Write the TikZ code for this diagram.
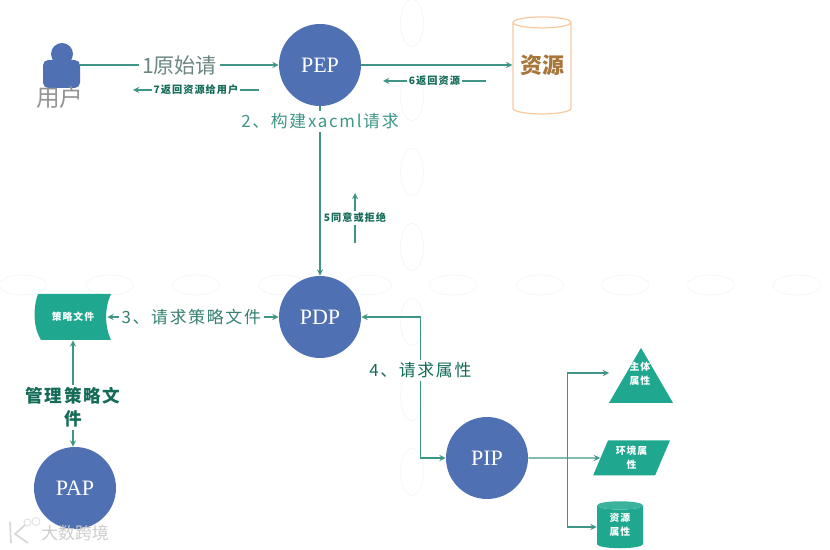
\documentclass[tikz,border=0pt]{standalone}
\usepackage{fontspec}
\setmainfont{Liberation Serif}
\newfontfamily\cjk{Noto Sans CJK SC}
\newfontfamily\cjkw[LetterSpace=10]{Noto Sans CJK SC}
\usetikzlibrary{shapes.geometric,positioning}
\definecolor{bluec}{HTML}{4F71B4}
\definecolor{tealc}{HTML}{1FA88F}
\definecolor{linec}{HTML}{3F9686}
\definecolor{darkc}{HTML}{146B58}
\definecolor{orangec}{HTML}{F6C9A0}
\definecolor{brownc}{HTML}{A9763A}
\definecolor{paleg}{HTML}{F5F5F5}

\begin{document}
\begin{tikzpicture}[every node/.style={font=\cjk},
  pt/.style={circle,fill=bluec,text=white,minimum size=1.64cm,inner sep=0,font=\fontsize{12.5}{15}\selectfont\rmfamily},
  conn/.style={draw=linec,line width=.6pt},
  big/.style={fill=white,inner sep=1.5pt,text=darkc!85,align=center,font=\fontsize{9.6}{13}\selectfont\cjkw},
  small/.style={fill=white,inner sep=1pt,text=darkc,font=\fontsize{5.8}{7}\selectfont\cjkw\bfseries},
  tiny/.style={text=white,align=center,inner sep=0,font=\fontsize{5.6}{8}\selectfont\cjkw\bfseries}]
  \useasboundingbox (0,0) rectangle (16.6,11);

  \foreach \x in {.46,2.2,3.92,5.64,7.36,9.06,10.8,12.5,14.22,15.94}
    \draw[paleg] (\x,5.3) ellipse (.47 and .2);
  \foreach \y in {10.54,9.06,7.56,6.06,4.56,3.06,1.56}
    \draw[paleg] (8.24,\y) ellipse (.23 and .47);

  \node[pt] (pep) at (6.4,9.7) {PEP};
  \node[pt] (pdp) at (6.4,4.66) {PDP};
  \node[pt] (pap) at (1.5,1.24) {PAP};
  \node[pt] (pip) at (9.74,1.84) {PIP};

  \node[rectangle,rounded corners=3pt,fill=bluec,minimum width=.74cm,minimum height=.56cm,inner sep=0] (user) at (1.23,9.52) {};
  \node[circle,fill=bluec,minimum size=.44cm,inner sep=0] (head) at (1.24,9.92) {};
  \node[text=gray!85,font=\fontsize{13.5}{15}\selectfont\cjk] (userlab) at (1.2,9.04) {用户};

  \node[cylinder,shape border rotate=90,aspect=.25,draw=orangec,line width=.7pt,minimum width=1.16cm,minimum height=1.94cm,inner sep=0,
    font=\fontsize{12.5}{15}\selectfont\cjk] (res) at (10.84,9.63) {\phantom{资源}};
  \node[text=brownc,font=\fontsize{12.5}{15}\selectfont\cjk\bfseries] (reslab) at (10.84,9.7) {资源};

  \fill[tealc] (.76,5.12) -- (2.22,5.12) .. controls (2.09,4.85) and (2.09,4.47) .. (2.22,4.2)
    -- (.82,4.2) .. controls (.66,4.45) and (.66,4.85) .. (.76,5.12) -- cycle;
  \node[tiny,minimum width=1.36cm,minimum height=.92cm] (doc) at (1.46,4.66) {策略文件};

  \node[isosceles triangle,isosceles triangle apex angle=60,isosceles triangle stretches,shape border rotate=90,fill=tealc,
    minimum width=1.28cm,minimum height=1.1cm,inner sep=0] (subj) at (12.82,3.31) {};
  \node[tiny] (subjlab) at (12.8,3.52) {主体\\属性};
  \node[trapezium,trapezium left angle=67,trapezium right angle=113,trapezium stretches,fill=tealc,
    minimum width=1.54cm,minimum height=.7cm,tiny] (env) at (12.63,1.84) {环境属\\性};
  \node[cylinder,shape border rotate=90,aspect=.4,cylinder uses custom fill,cylinder body fill=tealc,cylinder end fill=tealc!88!white,
    minimum width=.92cm,minimum height=.94cm,tiny] (store) at (12.4,.46) {\phantom{资源}\\\phantom{属性}};
  \node[tiny] (storelab) at (12.4,.5) {资源\\属性};

  \coordinate (backa) at (2.66,9.2);
  \coordinate (backb) at (5.18,9.2);
  \coordinate (resa) at (7.66,9.38);
  \coordinate (resb) at (9.72,9.38);
  \coordinate (yesa) at (7.1,7.14);
  \coordinate (yesb) at (7.1,6.14);
  \coordinate (subjin) at (12.18,3.54);

  \draw[conn,-stealth] (user.east |- pep.west) -- node[big,text=gray!70!linec,font=\fontsize{12}{14}\selectfont\cjk] (msg1) {1原始请} (pep.west);
  \draw[conn,-stealth] (backb) -- node[small] (msg7) {7返回资源给用户} (backa);
  \draw[conn,-stealth] (pep.east) -- (res.west |- pep.east);
  \draw[conn,-stealth] (resb) -- node[small] (msg6) {6返回资源} (resa);
  \draw[conn,-stealth] (pep.south) -- node[pos=.09,big,text=linec] (msg2) {2、构建xacml请求} (pdp.north);
  \draw[conn,-stealth] (yesb) -- node[small,pos=.5] (msg5) {5同意或拒绝} (yesa);
  \draw[conn,stealth-stealth] (doc.east) -- node[big,pos=.49] (msg3) {3、请求策略文件} (pdp.west);
  \draw[conn,stealth-stealth] (doc.south) -- node[big,pos=.63,text=darkc,font=\fontsize{10}{13}\selectfont\cjkw\bfseries] (msgm) {管理策略文\\件} (doc.south |- pap.north);
  \draw[conn,stealth-stealth] (pdp.east) -- ++(1.18,0) |- node[pos=.19,big,text=darkc] (msg4) {4、请求属性} (pip.west);
  \draw[conn,-stealth] (pip.east) -- (env.west);
  \draw[conn,-stealth] (pip.east) ++(.78,0) coordinate (fork) |- (subjin);
  \draw[conn,-stealth] (fork) |- (store.west);

  \node[text=gray!40,font=\fontsize{9.6}{11}\selectfont\cjk] (mark) at (1.5,.34) {大数跨境};
  \draw[gray!30,line width=1pt] (.2,.56) -- (.22,.14) (.5,.5) -- (.3,.32) -- (.56,.14);
  \draw[gray!30] (.55,.55) circle (.07) (.72,.57) circle (.08);
\end{tikzpicture}
\end{document}
